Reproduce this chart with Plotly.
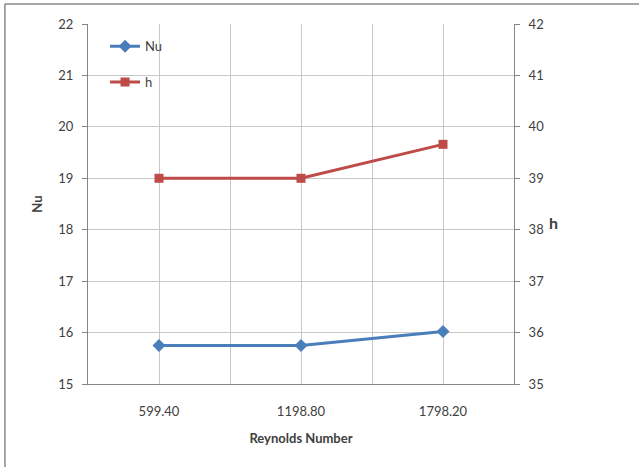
import plotly.graph_objects as go

# Data
reynolds = [599.40, 1198.80, 1798.20]
nu_values = [15.75, 15.75, 16.02]
h_values = [39.0, 39.0, 39.66]
tick_text = ["599.40", "1198.80", "1798.20"]

BLUE = "#4A7EBB"
RED = "#BE4B48"
AXIS = "#868686"
GRID = "#C8C8C8"
TEXT = "#404040"
FONT = "Lato"

fig = go.Figure()

fig.add_trace(go.Scatter(
    x=reynolds, y=nu_values, name="Nu", mode="lines+markers",
    line=dict(color=BLUE, width=3),
    marker=dict(symbol="diamond", size=10, color=BLUE),
    legendgroup="nu",
))
fig.add_trace(go.Scatter(
    x=reynolds, y=h_values, name="h", mode="lines+markers", yaxis="y2",
    line=dict(color=RED, width=3),
    marker=dict(symbol="square", size=9, color=RED),
    legendgroup="h",
))

step = reynolds[0] / 2

fig.update_layout(
    width=639, height=467,
    margin=dict(l=88, r=125, t=24, b=83),
    paper_bgcolor="white", plot_bgcolor="white",
    font=dict(family=FONT, size=13, color=TEXT),
    showlegend=True,
    legend=dict(
        x=0.04, y=0.98, xanchor="left", yanchor="top",
        bgcolor="rgba(0,0,0,0)", font=dict(size=13, color=TEXT),
        tracegroupgap=16, itemwidth=30,
    ),
    xaxis=dict(
        range=[step, reynolds[-1] + step],
        tickvals=reynolds, ticktext=tick_text,
        showgrid=True, gridcolor=GRID, gridwidth=1,
        minor=dict(tick0=step, dtick=2 * step, showgrid=True,
                   gridcolor=GRID, gridwidth=1),
        showline=True, linecolor=AXIS, linewidth=1,
        ticks="", ticklabelstandoff=15,
        zeroline=False,
        title=dict(text="<b>Reynolds Number</b>", standoff=16,
                   font=dict(size=13, color=TEXT)),
    ),
    yaxis=dict(
        range=[15, 22], dtick=1,
        showgrid=True, gridcolor=GRID, gridwidth=1,
        showline=True, linecolor=AXIS, linewidth=1,
        ticks="outside", ticklen=5, tickcolor=AXIS,
        ticklabelstandoff=6, zeroline=False,
        title=dict(text="<b>Nu</b>", standoff=12,
                   font=dict(size=13, color=TEXT)),
    ),
    yaxis2=dict(
        range=[35, 42], dtick=1, overlaying="y", side="right",
        showgrid=False,
        showline=True, linecolor=AXIS, linewidth=1,
        ticks="outside", ticklen=5, tickcolor=AXIS,
        ticklabelstandoff=6, zeroline=False,
    ),
    annotations=[dict(
        text="<b>h</b>", xref="paper", yref="paper",
        x=1.077, y=0.45, xanchor="left", yanchor="middle",
        showarrow=False, font=dict(size=16, color=TEXT),
    )],
    shapes=[
        dict(type="line", xref="paper", yref="paper",
             x0=-0.195, x1=1.3, y0=1.0556, y1=1.0556,
             line=dict(color="#898989", width=1.5)),
        dict(type="line", xref="paper", yref="paper",
             x0=-0.195, x1=-0.195, y0=1.0556, y1=-0.25,
             line=dict(color="#898989", width=1.5)),
    ],
)

fig.write_html("out.html")
